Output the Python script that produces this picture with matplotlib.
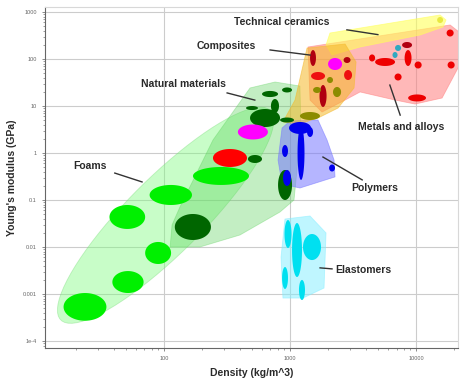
import matplotlib
matplotlib.use("Agg")
import matplotlib.pyplot as plt
import numpy as np

plt.rcParams['font.family'] = ['Liberation Sans', 'DejaVu Sans']

# axis ranges (density kg/m^3, Young's modulus GPa)
x_range = (11.4, 21500)
y_range = (7.1e-5, 1277)
x_ticks = [100, 1000, 10000]
x_ticklabels = ['100', '1000', '10000']
y_ticks = [1e-4, 1e-3, 1e-2, 0.1, 1, 10, 100, 1000]
y_ticklabels = ['1e-4', '0.001', '0.01', '0.1', '1', '10', '100', '1000']

# envelopes, outline points as (density, modulus)
foam_env_tips = [(15.2, 0.00028), (700, 8.0)]
natural_env = [(112, 0.01), (116, 0.0294), (134, 0.071), (245, 1.89), (482, 24.2),
               (761, 32.4), (1199, 26.6), (1222, 3.09), (1076, 0.1), (834, 0.0556),
               (401, 0.018), (193, 0.01)]
polymer_env = [(865, 3.4), (1000, 4.8), (1667, 5.04), (1967, 1.89), (2235, 0.71),
               (2275, 0.31), (1199, 0.18), (865, 0.219), (804, 0.71)]
elastomer_env = [(912, 0.0394), (1442, 0.0457), (1931, 0.0199), (1862, 0.00134),
                 (1268, 0.00082), (879, 0.00082), (849, 0.00613)]
composite_env = [(879, 4.57), (1096, 13.4), (1365, 171), (2735, 208), (3342, 86.3),
                 (3222, 24.2), (2405, 9.06), (1729, 5.83), (1199, 4.14)]
metal_env = [(1390, 180), (18620, 529), (21930, 375), (21930, 71), (16070, 14.8),
             (9817, 11.0), (6808, 13.4), (3597, 19.9), (2735, 13.4), (1795, 7.45),
             (1442, 13.4)]
ceramic_env = [(2075, 357), (15490, 863), (17290, 676), (16370, 480), (10760, 324),
               (3597, 180), (2154, 122), (1931, 199)]

# material bubbles: (density lo, density hi, modulus lo, modulus hi)
foams = [(16, 35, 0.00027, 0.00105), (39, 69, 0.00105, 0.00308),
         (71, 114, 0.00435, 0.0128), (37, 71, 0.0242, 0.0783),
         (77, 167, 0.0783, 0.209), (170, 473, 0.209, 0.504)]
natural_dark = [(122, 236, 0.0141, 0.0504), (804, 1038, 0.1, 0.435),
                (464, 600, 0.613, 0.906), (482, 834, 3.57, 8.63),
                (706, 818, 7.1, 14.1), (600, 804, 15.5, 20.9),
                (865, 1038, 19.4, 24.8), (448, 557, 8.2, 10.0),
                (834, 1076, 4.45, 5.69)]
natural_red = [(245, 456, 0.504, 1.217)]
natural_magenta = [(386, 668, 1.94, 4.04)]
polymers = [(1148, 1303, 0.267, 3.75), (982, 1469, 2.54, 4.57),
            (865, 964, 0.822, 1.48), (880, 1019, 0.199, 0.435),
            (2042, 2275, 0.404, 0.569), (1365, 1524, 2.19, 3.57)]
elastomers = [(904, 1028, 0.00953, 0.0375), (1038, 1245, 0.0023, 0.0324),
              (1268, 1762, 0.00528, 0.0189), (865, 964, 0.00128, 0.00375),
              (1178, 1315, 0.000745, 0.00199)]
metals = [(4732, 6808, 71, 105), (4236, 4732, 88.5, 125), (6745, 7674, 34.9, 49.1),
          (8110, 9200, 71, 155), (9730, 11070, 62.8, 88.5), (17460, 19860, 301, 424),
          (17780, 20230, 62.8, 88.5), (8650, 11990, 12.5, 17.6)]
metals_dark = [(7745, 9290, 171, 230)]
comp_red = [(1469, 1897, 35.7, 52.9), (2685, 3105, 35.7, 58.3)]
comp_darkred = [(1442, 1607, 71, 155), (1714, 1950, 9.52, 28), (2661, 3020, 82.2, 110)]
comp_olive = [(1967, 2193, 30.8, 41.4), (2193, 2542, 15.5, 25.4),
              (1524, 1762, 18.9, 25.4), (1199, 1729, 5.04, 7.45)]
comp_magenta = [(2004, 2588, 58.3, 105)]
ceram_yellow = [(14690, 16370, 583, 783)]
ceram_teal = [(6808, 7603, 148, 199), (6500, 7130, 105, 141)]

t = np.linspace(0, 2 * np.pi, 80)


def bubble(ax, b, color):
    # axis aligned ellipse spanning the ranges in log space
    lx = np.log10(b[:2])
    ly = np.log10(b[2:])
    xs = 10 ** (lx.mean() + (lx[1] - lx[0]) / 2 * np.cos(t))
    ys = 10 ** (ly.mean() + (ly[1] - ly[0]) / 2 * np.sin(t))
    ax.fill(xs, ys, color=color, lw=0, zorder=3)


def envelope(ax, pts, color, alpha):
    xs, ys = zip(*pts)
    ax.fill(xs, ys, facecolor=color, alpha=alpha, edgecolor=color, lw=0.6, zorder=2)


fig = plt.figure(figsize=(4.62, 3.78), dpi=100)
ax = fig.add_axes([45 / 462, 30 / 378, 413 / 462, 341 / 378])
ax.set_xscale('log')
ax.set_yscale('log')
ax.set_xlim(*x_range)
ax.set_ylim(*y_range)

# tilted foam envelope, built in display-proportional log space
bbox = ax.get_window_extent()
nx = np.log10(x_range[1] / x_range[0])
ny = np.log10(y_range[1] / y_range[0])
k = (bbox.height / ny) / (bbox.width / nx)
p = np.array([[np.log10(a), k * np.log10(b)] for a, b in foam_env_tips])
c = p.mean(axis=0)
d = (p[1] - p[0]) / 2
a_len = np.hypot(*d)
e = d / a_len
n = np.array([-e[1], e[0]])
hw = 0.3
u = c[0] + a_len * np.cos(t) * e[0] + hw * np.sin(t) * n[0]
v = c[1] + a_len * np.cos(t) * e[1] + hw * np.sin(t) * n[1]
ax.fill(10 ** u, 10 ** (v / k), facecolor='#7cfc7c', alpha=0.42,
        edgecolor='#7cdc7c', lw=0.6, zorder=1)

envelope(ax, natural_env, '#55d055', 0.35)
envelope(ax, polymer_env, '#7878ff', 0.55)
envelope(ax, elastomer_env, '#80eeff', 0.5)
envelope(ax, metal_env, '#ff7f7f', 0.55)
envelope(ax, ceramic_env, '#ffff5a', 0.6)
envelope(ax, composite_env, '#f5b828', 0.55)

for b in foams:
    bubble(ax, b, '#00f000')
for b in natural_dark:
    bubble(ax, b, '#006600')
for b in natural_red:
    bubble(ax, b, '#ff0000')
for b in natural_magenta:
    bubble(ax, b, '#ff00ff')
for b in polymers:
    bubble(ax, b, '#0000ee')
for b in elastomers:
    bubble(ax, b, '#00e0f0')
for b in metals:
    bubble(ax, b, '#ee0000')
for b in metals_dark:
    bubble(ax, b, '#b00010')
for b in comp_red:
    bubble(ax, b, '#ee1010')
for b in comp_darkred:
    bubble(ax, b, '#b00010')
for b in comp_olive:
    bubble(ax, b, '#8c8c00')
for b in comp_magenta:
    bubble(ax, b, '#ff00ff')
for b in ceram_yellow:
    bubble(ax, b, '#e8e840')
for b in ceram_teal:
    bubble(ax, b, '#30a8c0')

# class labels with leader lines (axes fraction)
labels = [
    ('Technical ceramics', 0.574, 0.956, 'center', [(0.731, 0.933), (0.806, 0.919)]),
    ('Composites', 0.438, 0.886, 'center', [(0.545, 0.874), (0.642, 0.859)]),
    ('Natural materials', 0.334, 0.774, 'center', [(0.441, 0.748), (0.508, 0.727)]),
    ('Foams', 0.109, 0.534, 'center', [(0.169, 0.513), (0.235, 0.487)]),
    ('Metals and alloys', 0.862, 0.648, 'center', [(0.860, 0.683), (0.835, 0.771)]),
    ('Polymers', 0.799, 0.469, 'center', [(0.673, 0.560), (0.768, 0.493)]),
    ('Elastomers', 0.702, 0.229, 'left', [(0.666, 0.235), (0.695, 0.232)]),
]
for txt, fx, fy, ha, line in labels:
    ax.text(fx, fy, txt, transform=ax.transAxes, ha=ha, va='center',
            fontsize=7.5, fontweight='bold', color='#2a2a2a', zorder=5)
    (x0, y0), (x1, y1) = line
    ax.plot([x0, x1], [y0, y1], transform=ax.transAxes, color='#333333', lw=1, zorder=5)

ax.set_xticks(x_ticks, labels=x_ticklabels)
ax.set_yticks(y_ticks, labels=y_ticklabels)
ax.tick_params(which='both', direction='out', colors='#777777', labelsize=4, labelcolor='#666666')
ax.tick_params(which='major', length=2.5, width=0.6)
ax.tick_params(which='minor', length=1.5, width=0.5)
ax.grid(True, which='major', color='#cccccc', lw=0.8, zorder=0)
ax.set_axisbelow(True)
for s in ['top', 'right']:
    ax.spines[s].set_color('#d8d8d8')
for s in ['left', 'bottom']:
    ax.spines[s].set_color('#666666')
    ax.spines[s].set_linewidth(0.8)

ax.set_xlabel('Density (kg/m^3)', fontsize=7.5, fontweight='bold', color='#2a2a2a', labelpad=5)
ax.set_ylabel("Young's modulus (GPa)", fontsize=7.5, fontweight='bold', color='#2a2a2a', labelpad=4)

fig.savefig('out.png', dpi=100)
